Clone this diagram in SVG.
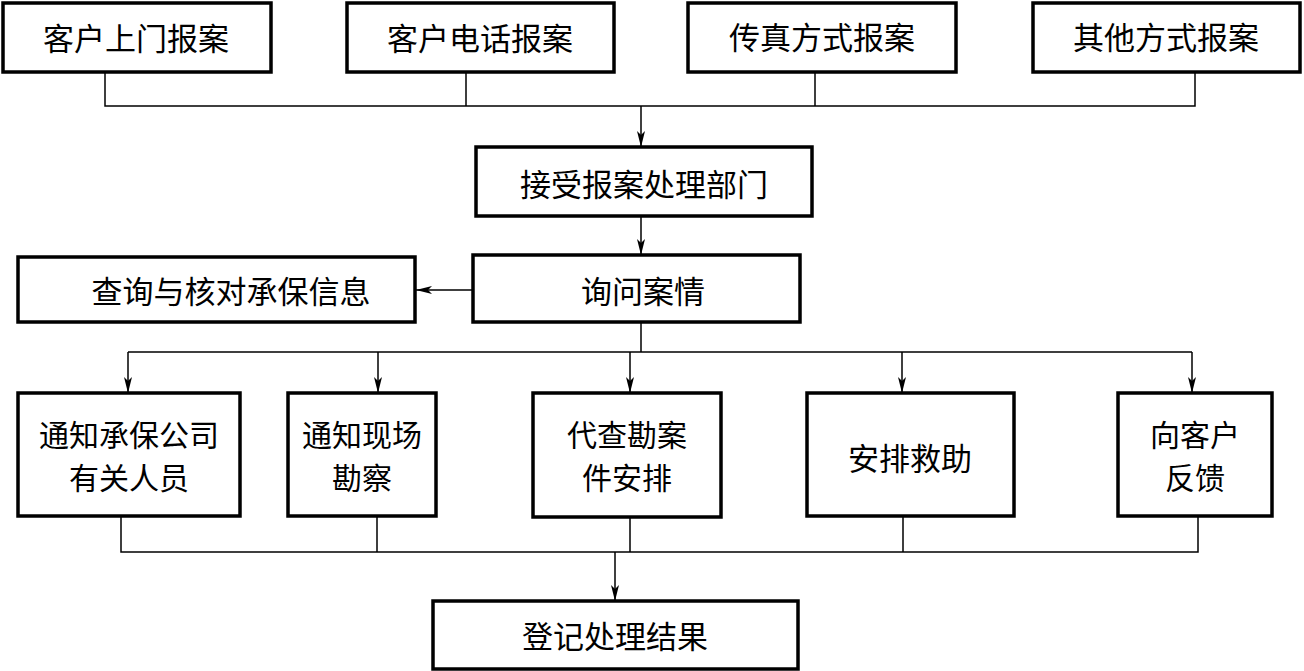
<svg xmlns="http://www.w3.org/2000/svg" width="1304" height="671" viewBox="0 0 1304 671">
<style>
.box{fill:#fff;stroke:#000;stroke-width:3.5}
.t{font-family:"Noto Sans CJK SC","Noto Sans CJK JP",sans-serif;font-size:31px;fill:#000;text-anchor:middle;dominant-baseline:central}
.t2{font-size:30px}
.c{fill:none;stroke:#000;stroke-width:1.5}
</style>
<defs>
<marker id="ah" viewBox="0 0 16 8" refX="16" refY="4" markerWidth="16" markerHeight="8" markerUnits="userSpaceOnUse" orient="auto">
<path d="M0,0 L16,4 L0,8 L4,4 Z" fill="#000"/>
</marker>
</defs>
<rect width="1304" height="671" fill="#fff"/>
<g id="connectors">
<path class="c" d="M105,72 V106 H1195 V72 M466,72 V106 M815,72 V106"/>
<path class="c" d="M641,106 V147" marker-end="url(#ah)"/>
<path class="c" d="M641,216 V255" marker-end="url(#ah)"/>
<path class="c" d="M473,290 H416" stroke-width="2" marker-end="url(#ah)"/>
<path class="c" d="M641,322 V352 M128,352 H1192"/>
<path class="c" d="M128,352 V393" marker-end="url(#ah)"/>
<path class="c" d="M378,352 V393" marker-end="url(#ah)"/>
<path class="c" d="M630,352 V393" marker-end="url(#ah)"/>
<path class="c" d="M902,352 V393" marker-end="url(#ah)"/>
<path class="c" d="M1192,352 V393" marker-end="url(#ah)"/>
<path class="c" d="M121,516 V552 H1198 V516 M377,516 V552 M630,517 V552 M903,516 V552"/>
<path class="c" d="M615,552 V601" marker-end="url(#ah)"/>
</g>
<g id="n1"><rect class="box" x="3" y="3" width="268" height="69"/><text class="t" x="136" y="36">客户上门报案</text></g>
<g id="n2"><rect class="box" x="347" y="3" width="267" height="69"/><text class="t" x="480" y="36">客户电话报案</text></g>
<g id="n3"><rect class="box" x="688" y="3" width="268" height="69"/><text class="t" x="822" y="35">传真方式报案</text></g>
<g id="n4"><rect class="box" x="1033" y="3" width="267" height="69"/><text class="t" x="1166" y="35">其他方式报案</text></g>
<g id="n5"><rect class="box" x="476" y="147" width="336" height="69"/><text class="t" x="644" y="182">接受报案处理部门</text></g>
<g id="n6"><rect class="box" x="473" y="255" width="327" height="67"/><text class="t" x="643" y="289">询问案情</text></g>
<g id="n7"><rect class="box" x="18" y="257" width="397" height="65"/><text class="t" x="231" y="289">查询与核对承保信息</text></g>
<g id="n8"><rect class="box" x="18" y="393" width="222" height="123"/><text class="t t2" x="129" y="433">通知承保公司</text><text class="t t2" x="129" y="476">有关人员</text></g>
<g id="n9"><rect class="box" x="288" y="393" width="148" height="123"/><text class="t t2" x="362" y="433">通知现场</text><text class="t t2" x="362" y="476">勘察</text></g>
<g id="n10"><rect class="box" x="533" y="393" width="188" height="124"/><text class="t t2" x="627" y="433">代查勘案</text><text class="t t2" x="627" y="476">件安排</text></g>
<g id="n11"><rect class="box" x="807" y="393" width="207" height="123"/><text class="t" x="910" y="456">安排救助</text></g>
<g id="n12"><rect class="box" x="1118" y="393" width="154" height="123"/><text class="t t2" x="1195" y="433">向客户</text><text class="t t2" x="1195" y="476">反馈</text></g>
<g id="n13"><rect class="box" x="433" y="601" width="365" height="68"/><text class="t" x="615" y="634">登记处理结果</text></g>
</svg>
